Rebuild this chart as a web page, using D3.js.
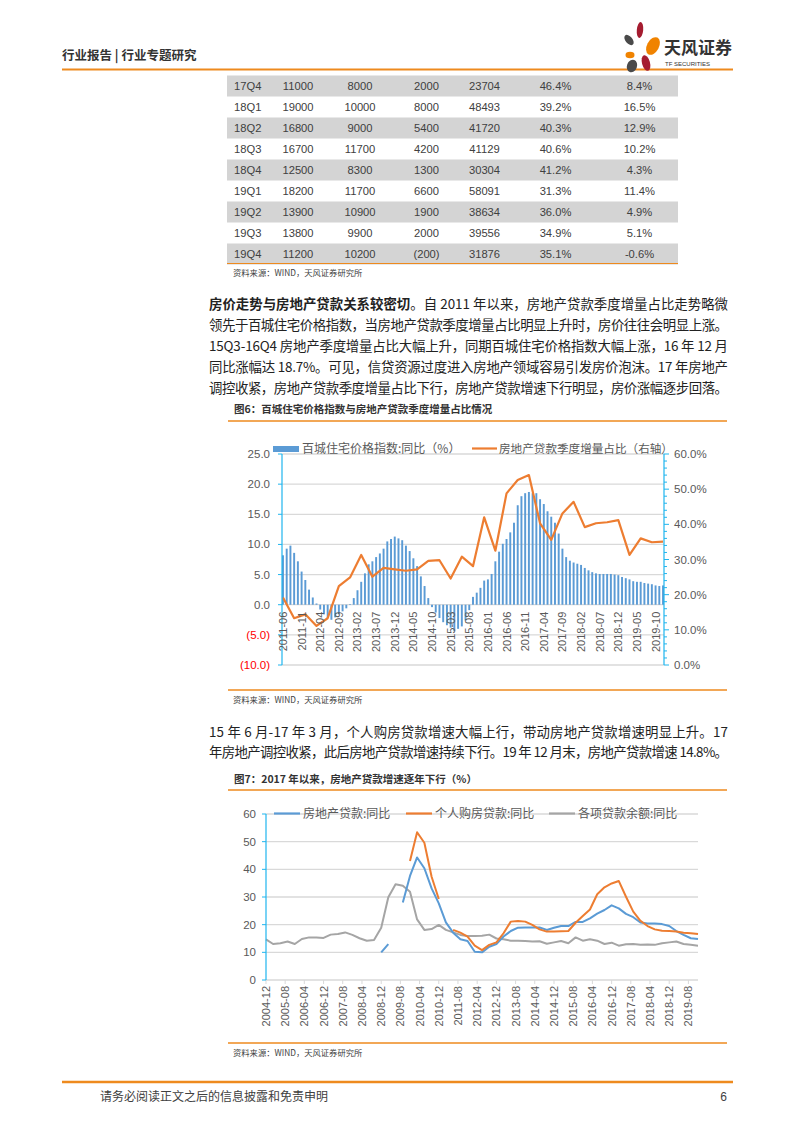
<!DOCTYPE html>
<html>
<head>
<meta charset="utf-8">
<script src="https://cdn.jsdelivr.net/npm/d3@7"></script>
<style>
body{margin:0;background:#fff}
svg{display:block}
</style>
</head>
<body>
<div id="page"></div>
<script>
// ---- table (top of page) ----
var tblQuarter = ["17Q4","18Q1","18Q2","18Q3","18Q4","19Q1","19Q2","19Q3","19Q4"];
var tblColA = ["11000","19000","16800","16700","12500","18200","13900","13800","11200"];
var tblColB = ["8000","10000","9000","11700","8300","11700","10900","9900","10200"];
var tblColC = ["2000","8000","5400","4200","1300","6600","1900","2000","(200)"];
var tblColD = ["23704","48493","41720","41129","30304","58091","38634","39556","31876"];
var tblColE = ["46.4%","39.2%","40.3%","40.6%","41.2%","31.3%","36.0%","34.9%","35.1%"];
var tblColF = ["8.4%","16.5%","12.9%","10.2%","4.3%","11.4%","4.9%","5.1%","-0.6%"];

// ---- chart 6: monthly bars (left axis) + quarterly line (right axis) ----
var priceYoY = [
  8.2, 9.3, 9.8, 8.6, 7.2, 5.5, 4.1, 2.5, 1.2, 0.2,          // 2011-06 .. 2012-03
  -0.8, -1.6, -2.2, -2.5, -2.1, -1.6, -1.1, -0.6, 0.1,       // 2012-04 .. 2012-12
  1.1, 2.4, 3.8, 5.2, 6.7, 7.2, 7.9, 8.5, 9.3, 10.5, 10.9, 11.3, // 2013
  11.0, 10.7, 9.8, 8.9, 7.7, 6.4, 4.7, 3.1, 1.1, -0.4, -1.3, -2.2, // 2014
  -2.9, -3.4, -3.8, -4.4, -4.0, -3.6, -2.6, -0.9, 1.3, 2.0, 2.8, 4.0, // 2015
  4.2, 5.1, 7.2, 8.8, 10.1, 10.9, 12.0, 13.6, 16.5, 18.0, 18.5, 18.7, // 2016
  18.5, 18.5, 17.5, 16.7, 15.5, 14.6, 13.6, 11.8, 9.3, 7.9, 7.3, 7.0, // 2017
  6.8, 6.6, 6.1, 5.7, 5.4, 5.2, 5.1, 5.1, 5.1, 5.1, 5.0, 4.9, // 2018
  4.6, 4.4, 4.2, 3.9, 3.8, 3.8, 3.6, 3.5, 3.4, 3.2, 3.1, 3.2  // 2019
];
var loanShare = [
  19.2, 13.3, 14.4, 11.1, 13.3, 22.4, 24.9, 31.3, 25.1, 27.6, 27.2,
  26.8, 27.2, 29.6, 29.8, 24.6, 30.8, 28.1, 42.0, 32.5, 48.8, 52.6,
  54.0, 40.3, 35.6, 43.1, 46.4, 39.2, 40.3, 40.6, 41.2, 31.3, 36.0, 34.9, 35.1
];
var ticks6 = ["2011-06","2011-11","2012-04","2012-09","2013-02","2013-07","2013-12","2014-05",
  "2014-10","2015-03","2015-08","2016-01","2016-06","2016-11","2017-04","2017-09","2018-02",
  "2018-07","2018-12","2019-05","2019-10"];
var leftTicks6 = [25, 20, 15, 10, 5, 0, -5, -10];
var rightTicks6 = [60, 50, 40, 30, 20, 10, 0];

// ---- chart 7: quarterly YoY, 2004-12 .. 2019-12 ----
var reLoanYoY = [
  null, null, null, null, null, null, null, null, null, null, null, null, null, null, null, null,
  10.0, 13.0, null, 28.0, 37.6, 44.3, 40.4, 33.1, 27.7, 20.8, 17.1, 14.7, 14.1, 10.2, 10.0,
  12.0, 13.0, 15.7, 17.7, 18.9, 19.0, 19.0, 19.0, 18.1, 18.9, 19.5, 19.5, 21.0, 21.0, 22.3,
  24.0, 25.3, 27.0, 25.9, 23.9, 22.7, 20.8, 20.4, 20.4, 20.2, 19.5, 17.7, 16.3, 15.1, 14.8
];
var mortgageYoY = [
  null, null, null, null, null, null, null, null, null, null, null, null, null, null, null, null,
  null, null, null, null, 43.0, 53.4, 49.6, 37.3, 29.3, null, 18.1, 17.1, 15.7, 12.4, 10.8,
  12.7, 13.6, 16.9, 21.1, 21.3, 21.1, 19.9, 18.3, 17.5, 17.5, 17.6, 17.7, 20.7, 23.1, 25.5,
  31.0, 33.5, 34.9, 35.8, 30.1, 24.7, 21.4, 19.5, 18.3, 17.8, 17.7, 17.5, 17.1, 16.9, 16.6
];
var allLoanYoY = [
  14.7, 13.0, 13.3, 13.9, 13.0, 14.8, 15.4, 15.4, 15.2, 16.4, 16.6, 17.2, 16.3, 15.1, 14.2, 14.5,
  18.9, 29.9, 34.6, 34.1, 31.9, 21.9, 18.1, 18.4, 19.9, 18.1, 17.2, 16.3, 15.9, 15.9, 16.0,
  16.4, 15.0, 14.7, 14.2, 14.2, 14.1, 13.9, 14.0, 13.1, 13.6, 14.1, 13.3, 15.4, 14.2, 14.7,
  14.2, 13.0, 13.5, 12.4, 12.9, 13.0, 12.7, 12.8, 12.7, 13.3, 13.6, 13.9, 13.0, 12.7, 12.4
];
var ticks7 = ["2004-12","2005-08","2006-04","2006-12","2007-08","2008-04","2008-12","2009-08",
  "2010-04","2010-12","2011-08","2012-04","2012-12","2013-08","2014-04","2014-12","2015-08",
  "2016-04","2016-12","2017-08","2018-04","2018-12","2019-08"];
var yTicks7 = [0, 10, 20, 30, 40, 50, 60];

var para1 = [
  "。自 2011 年以来，房地产贷款季度增量占比走势略微",
  "领先于百城住宅价格指数，当房地产贷款季度增量占比明显上升时，房价往往会明显上涨。",
  "15Q3-16Q4 房地产季度增量占比大幅上升，同期百城住宅价格指数大幅上涨，16 年 12 月",
  "同比涨幅达 18.7%。可见，信贷资源过度进入房地产领域容易引发房价泡沫。17 年房地产",
  "调控收紧，房地产贷款季度增量占比下行，房地产贷款增速下行明显，房价涨幅逐步回落。"
];
var para2 = [
  "15 年 6 月-17 年 3 月，个人购房贷款增速大幅上行，带动房地产贷款增速明显上升。17",
  "年房地产调控收紧，此后房地产贷款增速持续下行。19 年 12 月末，房地产贷款增速 14.8%。"
];

var CJK = "'Noto Sans CJK SC','Noto Sans',sans-serif";
var LAT = "'Liberation Sans',Arial,sans-serif";
var ORANGE = "#EE8A1E", BLUE = "#5B9BD5", ORG = "#ED7D31", GRAY = "#A5A5A5", CYAN = "#1FB5EE";
var GRID = "#D9D9D9", AXTXT = "#595959";

var svg = d3.select("#page").append("svg").attr("width", 793).attr("height", 1122);

// ---------- header ----------
svg.append("text").attr("x", 62).attr("y", 60)
  .style("font-family", CJK).style("font-size", "12.5px").style("font-weight", "bold").attr("fill", "#333")
  .text("行业报告 | 行业专题研究");
svg.append("line").attr("x1", 62).attr("x2", 733).attr("y1", 69.5).attr("y2", 69.5)
  .attr("stroke", ORANGE).attr("stroke-width", 2);

var logo = svg.append("g");
var petals = [
  {cx: 640, cy: 30, rx: 3.2, ry: 8, r: 5, c: "#A51C30"},
  {cx: 629, cy: 40, rx: 3.5, ry: 6, r: -40, c: "#4A4A4A"},
  {cx: 653, cy: 46, rx: 6, ry: 9.5, r: 28, c: "#F08300"},
  {cx: 630, cy: 55, rx: 4.5, ry: 3.2, r: 0, c: "#F08300"},
  {cx: 646, cy: 63, rx: 4, ry: 8, r: -15, c: "#A51C30"},
  {cx: 632, cy: 66, rx: 5, ry: 6.5, r: 20, c: "#4A4A4A"}
];
logo.selectAll("ellipse").data(petals).enter().append("ellipse")
  .attr("cx", function(d) { return d.cx; }).attr("cy", function(d) { return d.cy; })
  .attr("rx", function(d) { return d.rx; }).attr("ry", function(d) { return d.ry; })
  .attr("transform", function(d) { return "rotate(" + d.r + "," + d.cx + "," + d.cy + ")"; })
  .attr("fill", function(d) { return d.c; });
svg.append("text").attr("x", 664).attr("y", 54)
  .style("font-family", CJK).style("font-size", "17px").style("font-weight", "bold").attr("fill", "#333")
  .text("天风证券");
svg.append("text").attr("x", 665).attr("y", 65.5)
  .style("font-family", LAT).style("font-size", "6px").attr("fill", "#333")
  .text("TF SECURITIES");

// ---------- table ----------
var rowTop = 75.5, rowH = 21;
var tbl = svg.append("g");
tblQuarter.forEach(function(q, i) {
  var y0 = rowTop + i * rowH;
  if (i % 2 === 0) {
    tbl.append("rect").attr("x", 227).attr("y", y0).attr("width", 451).attr("height", rowH).attr("fill", "#D4D4D4");
  }
  var yb = y0 + rowH / 2 + 4;
  var cells = [
    {t: q, x: 234, a: "start"},
    {t: tblColA[i], x: 298, a: "middle"},
    {t: tblColB[i], x: 360, a: "middle"},
    {t: tblColC[i], x: 426.5, a: "middle"},
    {t: tblColD[i], x: 484.5, a: "middle"},
    {t: tblColE[i], x: 555.5, a: "middle"},
    {t: tblColF[i], x: 639.5, a: "middle"}
  ];
  cells.forEach(function(c) {
    tbl.append("text").attr("x", c.x).attr("y", yb).attr("text-anchor", c.a)
      .style("font-family", LAT).style("font-size", "11.2px").attr("fill", "#404040").text(c.t);
  });
});
svg.append("line").attr("x1", 227).attr("x2", 678).attr("y1", 263.5).attr("y2", 263.5)
  .attr("stroke", ORANGE).attr("stroke-width", 1.2);
function source(y) {
  svg.append("text").attr("x", 233).attr("y", y)
    .style("font-family", CJK).style("font-size", "8.3px").attr("fill", "#404040")
    .text("资料来源：WIND，天风证券研究所");
}
source(276);

// ---------- paragraphs ----------
function paraLine(y, parts) {
  var t = svg.append("text").attr("x", 209).attr("y", y)
    .attr("textLength", 519).attr("lengthAdjust", "spacing")
    .style("font-family", CJK).style("font-size", "13.4px").attr("fill", "#222");
  parts.forEach(function(p) {
    t.append("tspan").style("font-weight", p.b ? "bold" : "normal").text(p.s);
  });
}
paraLine(309, [{s: "房价走势与房地产贷款关系较密切", b: true}, {s: para1[0]}]);
for (var k = 1; k < para1.length; k++) paraLine(309 + k * 21, [{s: para1[k]}]);
paraLine(737, [{s: para2[0]}]);
paraLine(757, [{s: para2[1]}]);

// ---------- figure titles ----------
function figTitle(y, txt, lineY) {
  svg.append("text").attr("x", 234).attr("y", y)
    .style("font-family", CJK).style("font-size", "10.5px").style("font-weight", "bold").attr("fill", "#333")
    .text(txt);
  svg.append("line").attr("x1", 228).attr("x2", 727).attr("y1", lineY).attr("y2", lineY)
    .attr("stroke", ORANGE).attr("stroke-width", 1.3);
}
figTitle(413, "图6：百城住宅价格指数与房地产贷款季度增量占比情况", 421);

// ---------- chart 6 ----------
var fmtM = d3.utcFormat("%Y-%m");
var months6 = d3.utcMonth.range(new Date(Date.UTC(2011, 5, 1)), new Date(Date.UTC(2020, 0, 1))).map(fmtM);
var quarters6 = months6.filter(function(d, i) { return i % 3 === 0; });
var x6 = d3.scaleBand().domain(months6).range([282, 664]).paddingInner(0.48);
var yL = d3.scaleLinear().domain([-10, 25]).range([665, 454]);
var yR = d3.scaleLinear().domain([0, 60]).range([665, 454]);
var c6 = svg.append("g");

c6.selectAll("line.grid").data(leftTicks6).enter().append("line")
  .attr("x1", 282).attr("x2", 664)
  .attr("y1", function(d) { return yL(d); }).attr("y2", function(d) { return yL(d); })
  .attr("stroke", GRID).attr("stroke-width", 1.3);

c6.selectAll("rect.bar").data(priceYoY).enter().append("rect")
  .attr("x", function(d, i) { return x6(months6[i]); })
  .attr("width", x6.bandwidth())
  .attr("y", function(d) { return yL(Math.max(0, d)); })
  .attr("height", function(d) { return Math.abs(yL(d) - yL(0)); })
  .attr("fill", BLUE);

var line6 = d3.line()
  .x(function(d, i) { return x6(quarters6[i]) + x6.bandwidth() / 2; })
  .y(function(d) { return yR(d); });
c6.append("path").datum(loanShare).attr("d", line6)
  .attr("fill", "none").attr("stroke", ORG).attr("stroke-width", 2.2).attr("stroke-linejoin", "round");

// axes lines
c6.append("line").attr("x1", 282).attr("x2", 282).attr("y1", 454).attr("y2", 665).attr("stroke", CYAN).attr("stroke-width", 1.2);
c6.append("line").attr("x1", 664).attr("x2", 664).attr("y1", 454).attr("y2", 665).attr("stroke", CYAN).attr("stroke-width", 1.2);
c6.selectAll("line.lt").data(leftTicks6).enter().append("line")
  .attr("x1", 278).attr("x2", 282)
  .attr("y1", function(d) { return yL(d); }).attr("y2", function(d) { return yL(d); })
  .attr("stroke", CYAN);
c6.selectAll("line.rt").data(d3.range(0, 61, 2)).enter().append("line")
  .attr("x1", 664).attr("x2", function(d) { return d % 10 === 0 ? 669 : 667; })
  .attr("y1", function(d) { return yR(d); }).attr("y2", function(d) { return yR(d); })
  .attr("stroke", CYAN);

c6.selectAll("text.yl").data(leftTicks6).enter().append("text")
  .attr("x", 270).attr("y", function(d) { return yL(d) + 4; }).attr("text-anchor", "end")
  .style("font-family", LAT).style("font-size", "11.5px")
  .attr("fill", function(d) { return d < 0 ? "#FF0000" : AXTXT; })
  .text(function(d) { return d < 0 ? "(" + Math.abs(d).toFixed(1) + ")" : d.toFixed(1); });
c6.selectAll("text.yr").data(rightTicks6).enter().append("text")
  .attr("x", 674).attr("y", function(d) { return yR(d) + 4; })
  .style("font-family", LAT).style("font-size", "11.5px").attr("fill", AXTXT)
  .text(function(d) { return d.toFixed(1) + "%"; });

c6.selectAll("text.xl").data(ticks6).enter().append("text")
  .attr("transform", function(d) { return "translate(" + (x6(d) + x6.bandwidth() / 2 + 4) + "," + (yL(0) + 7) + ") rotate(-90)"; })
  .attr("text-anchor", "end")
  .style("font-family", LAT).style("font-size", "11px").attr("fill", AXTXT)
  .text(function(d) { return d; });

// legend 6
c6.append("rect").attr("x", 273).attr("y", 446).attr("width", 26).attr("height", 6).attr("fill", BLUE);
c6.append("text").attr("x", 302).attr("y", 453)
  .style("font-family", CJK).style("font-size", "12px").attr("fill", AXTXT).text("百城住宅价格指数:同比（%）");
c6.append("line").attr("x1", 472).attr("x2", 497).attr("y1", 448.5).attr("y2", 448.5).attr("stroke", ORG).attr("stroke-width", 2.2);
c6.append("text").attr("x", 499).attr("y", 452.5)
  .style("font-family", CJK).style("font-size", "11.6px").attr("fill", AXTXT).text("房地产贷款季度增量占比（右轴）");

svg.append("line").attr("x1", 228).attr("x2", 727).attr("y1", 690).attr("y2", 690).attr("stroke", ORANGE).attr("stroke-width", 1.3);
source(703);

// ---------- chart 7 ----------
figTitle(783, "图7：2017 年以来，房地产贷款增速逐年下行（%）", 790);
var parseM = d3.utcParse("%Y-%m");
var dates7 = d3.utcMonth.range(new Date(Date.UTC(2004, 11, 1)), new Date(Date.UTC(2020, 0, 1)), 3);
var x7 = d3.scaleUtc().domain([dates7[0], dates7[dates7.length - 1]]).range([266, 698]);
var y7 = d3.scaleLinear().domain([0, 60]).range([980, 814]);
var c7 = svg.append("g");

c7.selectAll("line.grid").data(yTicks7).enter().append("line")
  .attr("x1", 266).attr("x2", 698)
  .attr("y1", function(d) { return y7(d); }).attr("y2", function(d) { return y7(d); })
  .attr("stroke", GRID).attr("stroke-width", 1.3);
c7.selectAll("line.xt").data(ticks7).enter().append("line")
  .attr("x1", function(d) { return x7(parseM(d)); }).attr("x2", function(d) { return x7(parseM(d)); })
  .attr("y1", 980).attr("y2", 984).attr("stroke", GRID);

var series7 = [
  {v: allLoanYoY, c: GRAY},
  {v: reLoanYoY, c: BLUE},
  {v: mortgageYoY, c: ORG}
];
var line7 = d3.line()
  .defined(function(d) { return d != null; })
  .x(function(d, i) { return x7(dates7[i]); })
  .y(function(d) { return y7(d); });
series7.forEach(function(s) {
  c7.append("path").datum(s.v).attr("d", line7)
    .attr("fill", "none").attr("stroke", s.c).attr("stroke-width", 2).attr("stroke-linejoin", "round");
});

c7.append("line").attr("x1", 266).attr("x2", 266).attr("y1", 814).attr("y2", 980).attr("stroke", CYAN).attr("stroke-width", 1.2);
c7.selectAll("line.yt").data(yTicks7).enter().append("line")
  .attr("x1", 262).attr("x2", 266)
  .attr("y1", function(d) { return y7(d); }).attr("y2", function(d) { return y7(d); })
  .attr("stroke", CYAN);
c7.selectAll("text.yl").data(yTicks7).enter().append("text")
  .attr("x", 256).attr("y", function(d) { return y7(d) + 4; }).attr("text-anchor", "end")
  .style("font-family", LAT).style("font-size", "11.5px").attr("fill", AXTXT)
  .text(function(d) { return d; });
c7.selectAll("text.xl").data(ticks7).enter().append("text")
  .attr("transform", function(d) { return "translate(" + (x7(parseM(d)) + 4) + ",986) rotate(-90)"; })
  .attr("text-anchor", "end")
  .style("font-family", LAT).style("font-size", "11px").attr("fill", AXTXT)
  .text(function(d) { return d; });

var legend7 = [
  {x: 274, c: BLUE, t: "房地产贷款:同比"},
  {x: 406, c: ORG, t: "个人购房贷款:同比"},
  {x: 549, c: GRAY, t: "各项贷款余额:同比"}
];
legend7.forEach(function(l) {
  c7.append("line").attr("x1", l.x).attr("x2", l.x + 26).attr("y1", 813.5).attr("y2", 813.5)
    .attr("stroke", l.c).attr("stroke-width", 2.2);
  c7.append("text").attr("x", l.x + 29).attr("y", 818)
    .style("font-family", CJK).style("font-size", "12px").attr("fill", AXTXT).text(l.t);
});

svg.append("line").attr("x1", 228).attr("x2", 727).attr("y1", 1043).attr("y2", 1043).attr("stroke", ORANGE).attr("stroke-width", 1.3);
source(1056);

// ---------- footer ----------
svg.append("line").attr("x1", 62).attr("x2", 733).attr("y1", 1082).attr("y2", 1082)
  .attr("stroke", ORANGE).attr("stroke-width", 2.5);
svg.append("text").attr("x", 100).attr("y", 1101)
  .style("font-family", CJK).style("font-size", "12px").attr("fill", "#404040")
  .text("请务必阅读正文之后的信息披露和免责申明");
svg.append("text").attr("x", 727).attr("y", 1101).attr("text-anchor", "end")
  .style("font-family", LAT).style("font-size", "12px").attr("fill", "#404040").text("6");
</script>
</body>
</html>
